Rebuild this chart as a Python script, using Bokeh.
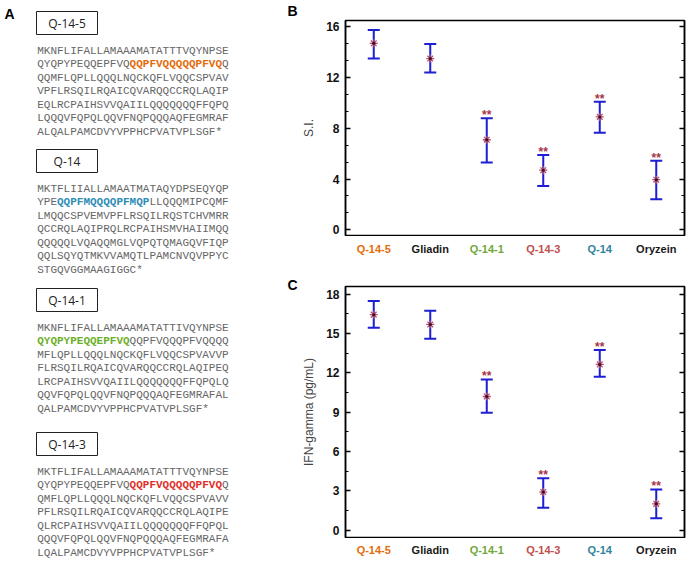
from bokeh.plotting import figure
from bokeh.models import (Range1d, FactorRange, LinearAxis, SingleIntervalTicker,
                          Whisker, TeeHead, ColumnDataSource, LabelSet,
                          CustomJSTickFormatter)
from bokeh.layouts import row, column
from bokeh.embed import file_html
from bokeh.resources import INLINE
from bokeh.core.properties import value

# ---------------- data ----------------
categories = ["Q-14-5", "Gliadin", "Q-14-1", "Q-14-3", "Q-14", "Oryzein"]
category_colors = ["#E46C0A", "#1A1A1A", "#6FA83A", "#C0504D", "#31849B", "#1A1A1A"]

si_mean = [14.7, 13.5, 7.1, 4.7, 8.9, 3.95]
si_upper = [15.75, 14.65, 8.8, 5.9, 10.1, 5.45]
si_lower = [13.5, 12.4, 5.3, 3.45, 7.65, 2.4]
si_sig = ["", "", "**", "**", "**", "**"]

ifn_mean = [16.45, 15.7, 10.2, 2.9, 12.65, 2.0]
ifn_upper = [17.5, 16.75, 11.5, 3.95, 13.75, 3.1]
ifn_lower = [15.45, 14.6, 8.95, 1.7, 11.7, 0.9]
ifn_sig = ["", "", "**", "**", "**", "**"]

si_ticks = [0, 4, 8, 12, 16]
ifn_ticks = [0, 3, 6, 9, 12, 15, 18]

seq_names = ["Q-14-5", "Q-14", "Q-14-1", "Q-14-3"]
seq_colors = ["#E36C09", "#2E8DB5", "#6CB02A", "#E0302A"]
seq_q145 = ["MKNFLIFALLAMAAAMATATTTVQYNPSE",
            "QYQPYPEQQEPFVQ[QQPFVQQQQQPFVQ]Q",
            "QQMFLQPLLQQQLNQCKQFLVQQCSPVAV",
            "VPFLRSQILRQAICQVARQQCCRQLAQIP",
            "EQLRCPAIHSVVQAIILQQQQQQQFFQPQ",
            "LQQQVFQPQLQQVFNQPQQQAQFEGMRAF",
            "ALQALPAMCDVYVPPHCPVATVPLSGF*"]
seq_q14 = ["MKTFLIIALLAMAATMATAQYDPSEQYQP",
           "YPE[QQPFMQQQQPFMQP]LLQQQMIPCQMF",
           "LMQQCSPVEMVPFLRSQILRQSTCHVMRR",
           "QCCRQLAQIPRQLRCPAIHSMVHAIIMQQ",
           "QQQQQLVQAQQMGLVQPQTQMAGQVFIQP",
           "QQLSQYQTMKVVAMQTLPAMCNVQVPPYC",
           "STGQVGGMAAGIGGC*"]
seq_q141 = ["MKNFLIFALLAMAAAMATATTIVQYNPSE",
            "[QYQPYPEQQEPFVQ]QQPFVQQQPFVQQQQ",
            "MFLQPLLQQQLNQCKQFLVQQCSPVAVVP",
            "FLRSQILRQAICQVARQQCCRQLAQIPEQ",
            "LRCPAIHSVVQAIILQQQQQQQFFQPQLQ",
            "QQVFQPQLQQVFNQPQQQAQFEGMRAFAL",
            "QALPAMCDVYVPPHCPVATVPLSGF*"]
seq_q143 = ["MKTFLIFALLAMAAAMATATTTVQYNPSE",
            "QYQPYPEQQEPFVQ[QQPFVQQQQQPFVQ]Q",
            "QMFLQPLLQQQLNQCKQFLVQQCSPVAVV",
            "PFLRSQILRQAICQVARQQCCRQLAQIPE",
            "QLRCPAIHSVVQAIILQQQQQQQFFQPQL",
            "QQQVFQPQLQQVFNQPQQQAQFEGMRAFA",
            "LQALPAMCDVYVPPHCPVATVPLSGF*"]
sequences = [seq_q145, seq_q14, seq_q141, seq_q143]
panel_letters = ["B", "C"]

# ---------------- layout constants ----------------
TOTAL_W, TOTAL_H = 688, 560
WA = 299
WB = TOTAL_W - WA
BORDER_L, BORDER_R = 41, 4
BLUE = "#1E1ED2"
STAR = "#A63446"
FONT = "Liberation Sans"

# ---------------- panel A ----------------
pa = figure(width=WA, height=TOTAL_H, x_range=Range1d(0, WA), y_range=Range1d(TOTAL_H, 0),
            toolbar_location=None, output_backend="svg", min_border=0)
pa.axis.visible = False
pa.grid.visible = False
pa.outline_line_color = None

box_tops = [11, 149, 288, 432]
box_left, box_w, box_h = 36, 61, 23
seq_x0, seq_dy, seq_gap, adv = 36.7, 13.45, 39.5, 6.6

for name, col, lines, bt in zip(seq_names, seq_colors, sequences, box_tops):
    pa.quad(left=[box_left], right=[box_left + box_w], top=[bt], bottom=[bt + box_h],
            fill_color="white", line_color="#222222", line_width=1)
    pa.text(x=[box_left + box_w / 2], y=[bt + box_h / 2 + 0.5], text=[name],
            text_font=value("Open Sans"), text_font_size="12px", text_color="#222222",
            text_align="center", text_baseline="middle")
    nx, ny, nt, hx, hy, ht = [], [], [], [], [], []
    for i, ln in enumerate(lines):
        y = bt + seq_gap + i * seq_dy
        idx = 0
        hl = False
        buf = ""
        segs = []
        for ch in ln:
            if ch in "[]":
                if buf:
                    segs.append((buf, hl))
                buf = ""
                hl = (ch == "[")
            else:
                buf += ch
        if buf:
            segs.append((buf, hl))
        for s, h in segs:
            if h:
                hx.append(seq_x0 + idx * adv); hy.append(y); ht.append(s)
            else:
                nx.append(seq_x0 + idx * adv); ny.append(y); nt.append(s)
            idx += len(s)
    pa.text(x=nx, y=ny, text=nt, text_font=value("Liberation Mono"), text_font_size="11px",
            text_color="#666666", text_align="left", text_baseline="middle")
    pa.text(x=hx, y=hy, text=ht, text_font=value("Liberation Mono"), text_font_size="11px",
            text_color=col, text_font_style="bold", text_align="left", text_baseline="middle")

# panel letters (A in panel A; B and C sit just left of their plots)
pa.text(x=[4, 287, 287], y=[13, 10, 284], text=["A"] + panel_letters,
        text_font=value(FONT), text_font_size="14px", text_font_style="bold",
        text_color="black", text_align="left", text_baseline="middle")


# ---------------- panels B, C ----------------
def make_panel(mean, upper, lower, sig, ticks, n_minor, yr, ylabel, height,
               top_b, strip_h, label_gap):
    src = ColumnDataSource(dict(cat=categories, mean=mean, upper=upper, lower=lower,
                                sig=sig, color=category_colors,
                                ly=[label_gap] * len(categories)))
    xr = FactorRange(factors=categories, range_padding=0)
    p = figure(width=WB, height=height - strip_h, x_range=xr,
               y_range=Range1d(*yr), toolbar_location=None, output_backend="svg",
               min_border_left=BORDER_L, min_border_right=BORDER_R, min_border_top=top_b,
               min_border_bottom=1)
    p.xaxis.visible = False
    p.grid.visible = False
    p.outline_line_color = "black"
    p.outline_line_width = 1.5

    interval = ticks[1] - ticks[0]
    ax = p.yaxis[0]
    ax.ticker = SingleIntervalTicker(interval=interval, num_minor_ticks=n_minor)
    ax.major_tick_in, ax.major_tick_out = 5, 0
    ax.minor_tick_in, ax.minor_tick_out = 3, 0
    ax.axis_line_width = 1.5
    ax.major_tick_line_width = 1.5
    ax.minor_tick_line_width = 1.2
    ax.major_label_text_font = FONT
    ax.major_label_text_font_size = "12px"
    ax.major_label_text_font_style = "bold"
    ax.major_label_text_color = "#111111"
    ax.major_label_standoff = 6
    ax.axis_label = ylabel
    ax.axis_label_text_font = FONT
    ax.axis_label_text_font_size = "12px"
    ax.axis_label_text_font_style = "normal"
    ax.axis_label_standoff = 7

    ra = LinearAxis(ticker=SingleIntervalTicker(interval=interval, num_minor_ticks=n_minor),
                    formatter=CustomJSTickFormatter(code="return ''"),
                    major_tick_in=5, major_tick_out=0, minor_tick_in=3, minor_tick_out=0,
                    axis_line_width=1.5, major_tick_line_width=1.5, minor_tick_line_width=1.2,
                    major_label_standoff=0, major_label_text_font_size="0px")
    p.add_layout(ra, "right")

    w = Whisker(source=src, base="cat", upper="upper", lower="lower",
                line_color=BLUE, line_width=2,
                upper_head=TeeHead(size=12, line_color=BLUE, line_width=2),
                lower_head=TeeHead(size=12, line_color=BLUE, line_width=2))
    p.add_layout(w)
    p.scatter(x="cat", y="mean", source=src, marker="asterisk", size=8,
              line_color="#B5506E", line_width=1.3)
    p.scatter(x="cat", y="mean", source=src, marker="circle", size=3,
              fill_color="#3A0A28", line_color=None)

    p.add_layout(LabelSet(x="cat", y="upper", text="sig", source=src, y_offset=3,
                          text_align="center", text_baseline="middle",
                          text_font=value(FONT), text_font_size="12px",
                          text_font_style="bold", text_color=STAR))

    # strip under the plot carrying the coloured category labels (shares the x range)
    s = figure(width=WB, height=strip_h, x_range=xr, y_range=Range1d(strip_h, 0),
               toolbar_location=None, output_backend="svg",
               min_border_left=BORDER_L, min_border_right=BORDER_R,
               min_border_top=0, min_border_bottom=0)
    s.axis.visible = False
    s.grid.visible = False
    s.outline_line_color = None
    s.text(x="cat", y="ly", text="cat", source=src, text_color="color",
           text_align="center", text_baseline="middle",
           text_font=value(FONT), text_font_size="11px", text_font_style="bold")
    return column(p, s)


pb = make_panel(si_mean, si_upper, si_lower, si_sig, si_ticks, 3, (-0.45, 16.5), "S.I.",
                280, 20, 44, 12)
pc = make_panel(ifn_mean, ifn_upper, ifn_lower, ifn_sig, ifn_ticks, 2, (-0.57, 18.6),
                "IFN-gamma (pg/mL)", 280, 6, 22, 11)

layout = row(pa, column(pb, pc))
open("out.html", "w").write(file_html(layout, INLINE))
